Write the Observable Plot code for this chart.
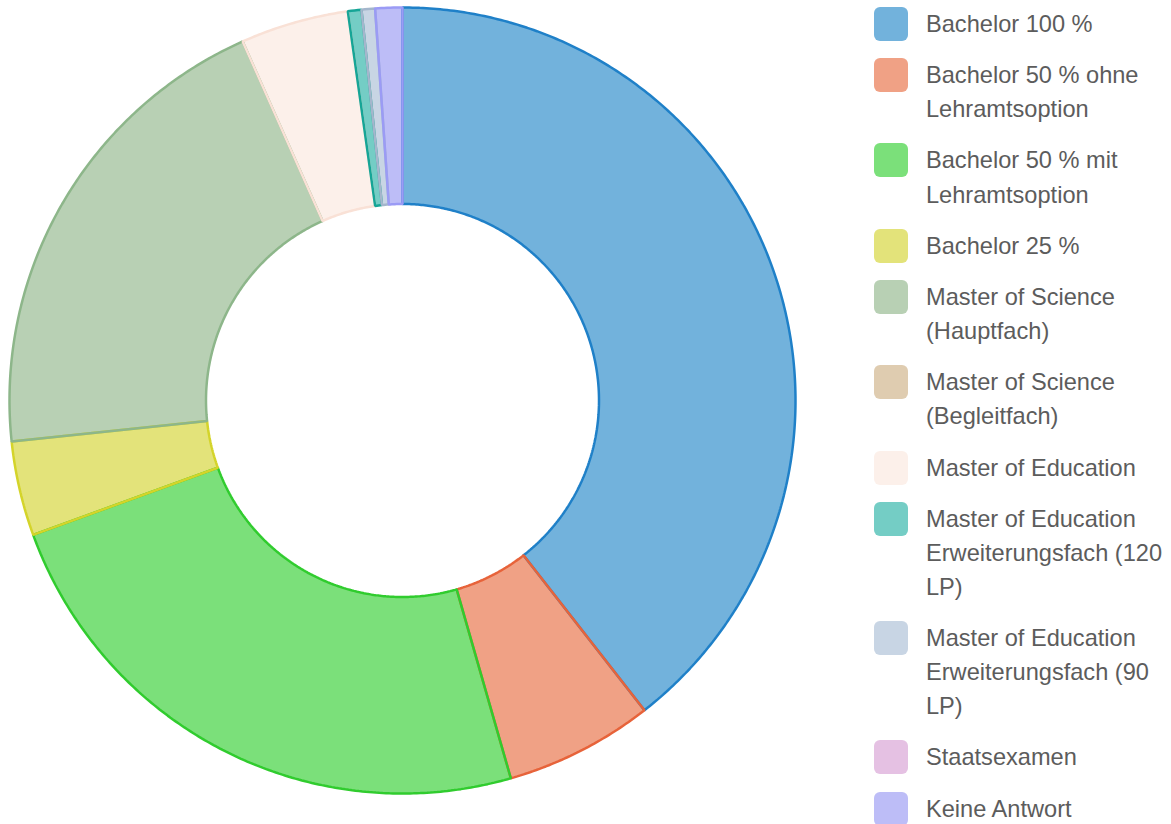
<!DOCTYPE html>
<html><head><meta charset="utf-8">
<script src="https://cdn.jsdelivr.net/npm/d3@7"></script>
<script src="https://cdn.jsdelivr.net/npm/@observablehq/plot@0.6"></script>
<style>
html,body{margin:0;padding:0;background:#fff;overflow:hidden}
#wrap{position:relative;width:1171px;height:824px}
#chart{position:absolute;left:0;top:0}
#legend{position:absolute;left:874px;top:7px;font-family:"Liberation Sans",Arial,sans-serif;font-size:23.6px;color:#5c5c5c}
.item{display:flex;align-items:flex-start;margin-bottom:17.1px}
.box{width:34px;height:34px;border-radius:6px;flex:none;margin-right:18px}
.label{line-height:34.1px;white-space:pre}
</style></head><body><div id="wrap"><div id="chart"></div><div id="legend"></div></div>
<script>
const categories = [
  "Bachelor 100 %",
  "Bachelor 50 % ohne Lehramtsoption",
  "Bachelor 50 % mit Lehramtsoption",
  "Bachelor 25 %",
  "Master of Science (Hauptfach)",
  "Master of Science (Begleitfach)",
  "Master of Education",
  "Master of Education Erweiterungsfach (120 LP)",
  "Master of Education Erweiterungsfach (90 LP)",
  "Staatsexamen",
  "Keine Antwort"
];
const legendLabels = [
  "Bachelor 100 %",
  "Bachelor 50 % ohne\nLehramtsoption",
  "Bachelor 50 % mit\nLehramtsoption",
  "Bachelor 25 %",
  "Master of Science\n(Hauptfach)",
  "Master of Science\n(Begleitfach)",
  "Master of Education",
  "Master of Education\nErweiterungsfach (120\nLP)",
  "Master of Education\nErweiterungsfach (90\nLP)",
  "Staatsexamen",
  "Keine Antwort"
];
const counts = [71, 11, 43, 7, 36, 0, 8, 1, 1, 0, 2];
const fillColors = ["#72b2dc", "#f0a185", "#7be07a", "#e3e37a", "#b8d0b4", "#dfccb0", "#fcf0ea", "#74cdc5", "#c8d5e4", "#e5c1e3", "#bdbdf7"];
const strokeColors = ["#1f80c8", "#e7633a", "#30cc2e", "#d4d42a", "#8db68a", "#c8aa80", "#f9e1d6", "#16a596", "#a4b6cc", "#d08ccc", "#9b9bf5"];
const innerRatio = 0.5;

const rows = categories.map((cat, i) => ({cat, count: counts[i], i}));
const arcs = d3.pie().sort(null).value(d => d.count).startAngle(0).endAngle(2 * Math.PI)(rows)
  .filter(a => a.data.count > 0);

function ring(a0, a1, r0, r1) {
  const n = Math.max(2, Math.ceil((a1 - a0) / (Math.PI / 360)));
  const pts = [];
  for (let k = 0; k <= n; k++) { const t = a0 + (a1 - a0) * k / n; pts.push([r1 * Math.sin(t), -r1 * Math.cos(t)]); }
  for (let k = n; k >= 0; k--) { const t = a0 + (a1 - a0) * k / n; pts.push([r0 * Math.sin(t), -r0 * Math.cos(t)]); }
  pts.push(pts[0]);
  return pts;
}

const features = arcs.map(a => ({
  type: "Feature",
  properties: {cat: a.data.cat, i: a.data.i},
  geometry: {type: "Polygon", coordinates: [ring(a.startAngle, a.endAngle, innerRatio, 1)]}
}));

const domain = {type: "MultiPoint", coordinates: [[-1, -1], [1, 1]]};

const chart = Plot.plot({
  width: 804,
  height: 800,
  marginLeft: 9, marginRight: 9, marginTop: 7, marginBottom: 7,
  projection: {type: "identity", domain, clip: false},
  color: {type: "ordinal", domain: categories, range: fillColors},
  marks: [
    Plot.geo(features, {fill: d => d.properties.cat, stroke: "none"}),
    ...features.map(f => Plot.geo([f], {fill: "none", stroke: strokeColors[f.properties.i], strokeWidth: 2.5, strokeLinejoin: "miter"}))
  ]
});
document.getElementById("chart").appendChild(chart);

const legend = d3.select("#legend");
const items = legend.selectAll(".item").data(categories).join("div").attr("class", "item");
items.append("div").attr("class", "box").style("background", (d, i) => fillColors[i]);
items.append("div").attr("class", "label").text((d, i) => legendLabels[i]);
</script>
</body></html>
